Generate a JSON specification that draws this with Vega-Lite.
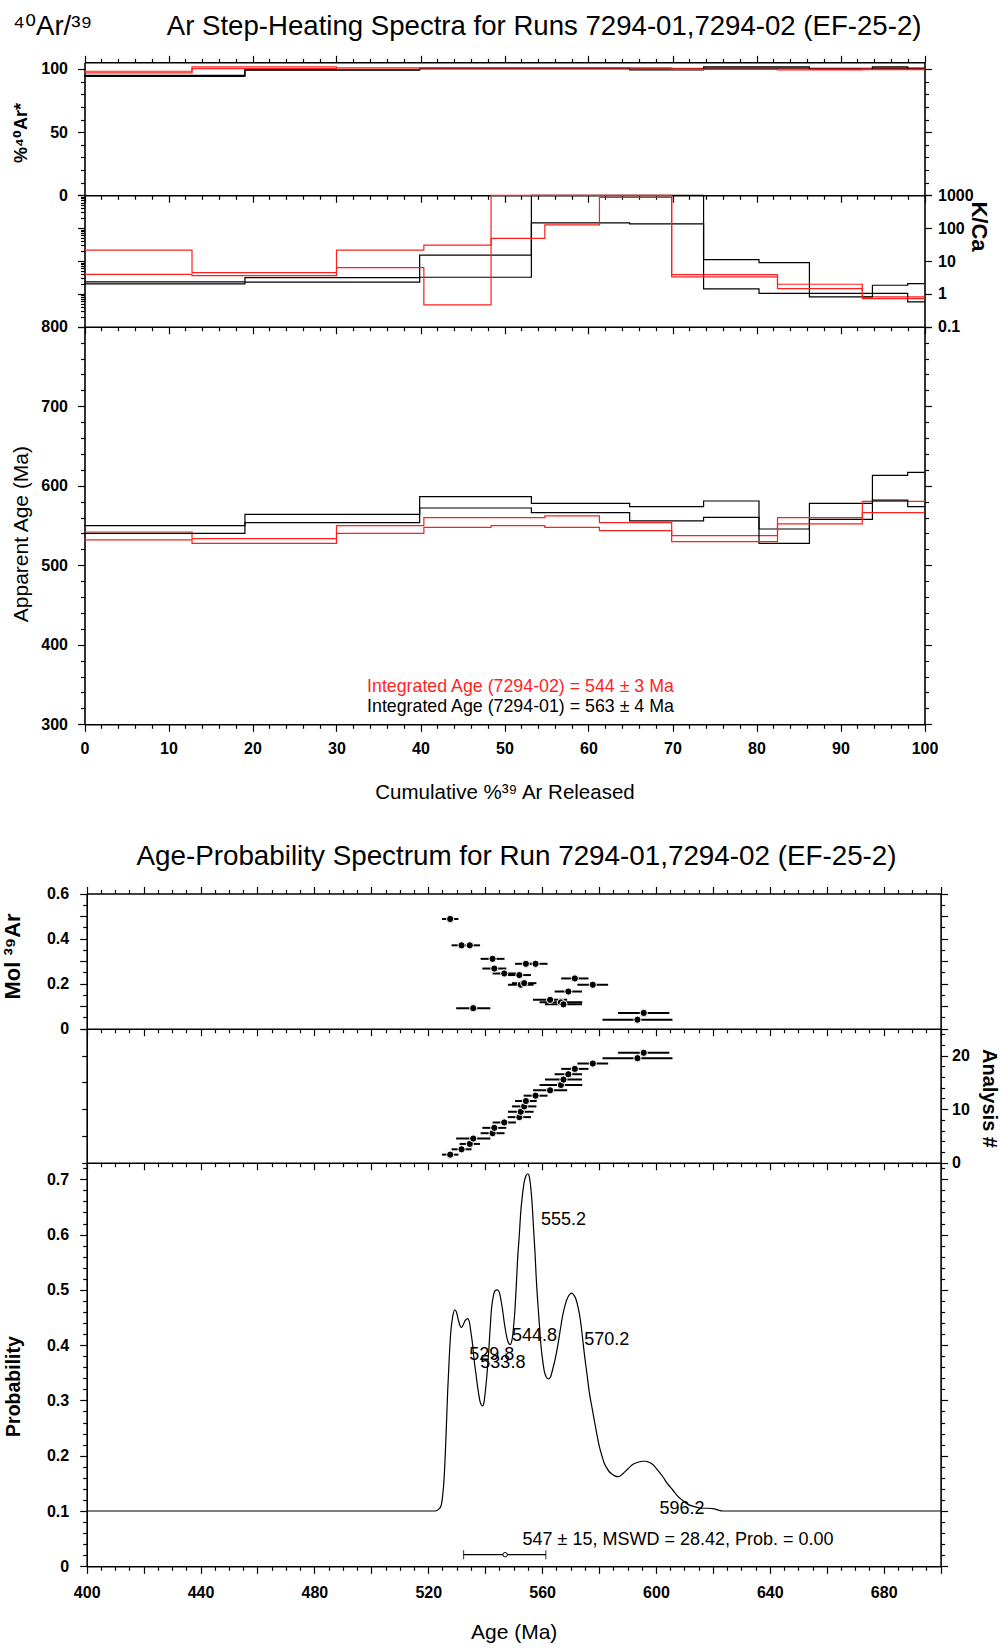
{
  "$schema": "https://vega.github.io/schema/vega-lite/v6.json",
  "width": 1001,
  "height": 1648,
  "autosize": {"type": "none"},
  "padding": 0,
  "background": "white",
  "config": {
    "font": "Liberation Sans",
    "view": {"stroke": null},
    "axis": {"domain": true, "domainColor": "black", "domainWidth": 1.6, "grid": false, "labelFont": "Liberation Sans", "labelFontSize": 16, "labelFontWeight": "bold", "labelColor": "black", "tickColor": "black", "tickWidth": 1.2, "titleFont": "Liberation Sans", "titleColor": "black", "labelFlush": false, "labelOverlap": false, "labelBound": false},
    "legend": {"disable": true}
  },
  "datasets": {
    "steps": [
      {"run": "7294-01", "step": 1, "x0": 0, "x1": 19.1, "rad_hi": 95.0, "rad_lo": 94.2, "kca_hi": 2.31, "kca_lo": 2.01, "age_hi": 549.8, "age_lo": 540.2},
      {"run": "7294-01", "step": 2, "x0": 19.1, "x1": 39.9, "rad_hi": 99.5, "rad_lo": 99.0, "kca_hi": 3.13, "kca_lo": 2.26, "age_hi": 564.0, "age_lo": 553.6},
      {"run": "7294-01", "step": 3, "x0": 39.9, "x1": 53.2, "rad_hi": 100.8, "rad_lo": 100.2, "kca_hi": 15.2, "kca_lo": 3.2, "age_hi": 586.3, "age_lo": 572.0},
      {"run": "7294-01", "step": 4, "x0": 53.2, "x1": 64.9, "rad_hi": 100.8, "rad_lo": 100.2, "kca_hi": 1000, "kca_lo": 145, "age_hi": 577.9, "age_lo": 566.1},
      {"run": "7294-01", "step": 5, "x0": 64.9, "x1": 73.7, "rad_hi": 100.2, "rad_lo": 99.3, "kca_hi": 1000, "kca_lo": 135, "age_hi": 573.7, "age_lo": 555.7},
      {"run": "7294-01", "step": 6, "x0": 73.7, "x1": 80.3, "rad_hi": 101.6, "rad_lo": 100.8, "kca_hi": 11.0, "kca_lo": 1.42, "age_hi": 580.8, "age_lo": 560.3},
      {"run": "7294-01", "step": 7, "x0": 80.3, "x1": 86.3, "rad_hi": 101.6, "rad_lo": 100.8, "kca_hi": 8.9, "kca_lo": 1.03, "age_hi": 545.6, "age_lo": 527.6},
      {"run": "7294-01", "step": 8, "x0": 86.3, "x1": 93.8, "rad_hi": 100.5, "rad_lo": 99.8, "kca_hi": 1.03, "kca_lo": 0.81, "age_hi": 577.9, "age_lo": 557.8},
      {"run": "7294-01", "step": 9, "x0": 93.8, "x1": 98.0, "rad_hi": 101.6, "rad_lo": 100.8, "kca_hi": 1.83, "kca_lo": 1.03, "age_hi": 613.0, "age_lo": 582.0},
      {"run": "7294-01", "step": 10, "x0": 98.0, "x1": 100, "rad_hi": 100.8, "rad_lo": 100.0, "kca_hi": 2.04, "kca_lo": 0.57, "age_hi": 616.8, "age_lo": 573.7},
      {"run": "7294-02", "step": 1, "x0": 0, "x1": 12.8, "rad_hi": 98.2, "rad_lo": 96.9, "kca_hi": 21.5, "kca_lo": 3.94, "age_hi": 541.8, "age_lo": 531.8},
      {"run": "7294-02", "step": 2, "x0": 12.8, "x1": 30.0, "rad_hi": 101.7, "rad_lo": 100.3, "kca_hi": 4.43, "kca_lo": 3.6, "age_hi": 533.4, "age_lo": 527.6},
      {"run": "7294-02", "step": 3, "x0": 30.0, "x1": 40.4, "rad_hi": 101.0, "rad_lo": 100.0, "kca_hi": 21.5, "kca_lo": 6.28, "age_hi": 549.8, "age_lo": 540.2},
      {"run": "7294-02", "step": 4, "x0": 40.4, "x1": 48.4, "rad_hi": 101.0, "rad_lo": 100.0, "kca_hi": 30.5, "kca_lo": 0.46, "age_hi": 559.9, "age_lo": 547.7},
      {"run": "7294-02", "step": 5, "x0": 48.4, "x1": 54.8, "rad_hi": 101.0, "rad_lo": 100.0, "kca_hi": 1000, "kca_lo": 48.6, "age_hi": 559.9, "age_lo": 549.8},
      {"run": "7294-02", "step": 6, "x0": 54.8, "x1": 61.3, "rad_hi": 101.0, "rad_lo": 100.0, "kca_hi": 1000, "kca_lo": 126, "age_hi": 562.0, "age_lo": 547.7},
      {"run": "7294-02", "step": 7, "x0": 61.3, "x1": 69.9, "rad_hi": 101.0, "rad_lo": 100.0, "kca_hi": 1000, "kca_lo": 870, "age_hi": 553.6, "age_lo": 543.5},
      {"run": "7294-02", "step": 8, "x0": 69.9, "x1": 82.5, "rad_hi": 100.6, "rad_lo": 99.6, "kca_hi": 3.85, "kca_lo": 3.27, "age_hi": 537.2, "age_lo": 529.7},
      {"run": "7294-02", "step": 9, "x0": 82.5, "x1": 92.6, "rad_hi": 100.2, "rad_lo": 99.3, "kca_hi": 1.96, "kca_lo": 1.45, "age_hi": 559.9, "age_lo": 552.0},
      {"run": "7294-02", "step": 10, "x0": 92.6, "x1": 100, "rad_hi": 100.4, "rad_lo": 99.5, "kca_hi": 0.81, "kca_lo": 0.72, "age_hi": 580.4, "age_lo": 566.1}
    ],
    "notes": [
      {"run": "7294-02", "text": "Integrated Age (7294-02) = 544 ± 3 Ma", "x": 51.9, "age": 347.3},
      {"run": "7294-01", "text": "Integrated Age (7294-01) = 563 ± 4 Ma", "x": 51.9, "age": 322.1}
    ],
    "analyses": [
      {"n": 1, "age": 527.7, "lo": 524.8, "hi": 530.6, "mol": 0.487},
      {"n": 2, "age": 531.7, "lo": 528.2, "hi": 535.2, "mol": 0.370},
      {"n": 3, "age": 534.6, "lo": 531.0, "hi": 538.2, "mol": 0.370},
      {"n": 4, "age": 535.8, "lo": 529.8, "hi": 541.8, "mol": 0.091},
      {"n": 5, "age": 542.6, "lo": 538.4, "hi": 546.8, "mol": 0.310},
      {"n": 6, "age": 543.2, "lo": 539.0, "hi": 547.4, "mol": 0.267},
      {"n": 7, "age": 546.7, "lo": 542.6, "hi": 550.8, "mol": 0.245},
      {"n": 8, "age": 552.0, "lo": 547.9, "hi": 556.1, "mol": 0.238},
      {"n": 9, "age": 552.5, "lo": 548.0, "hi": 557.0, "mol": 0.195},
      {"n": 10, "age": 553.7, "lo": 549.4, "hi": 558.0, "mol": 0.202},
      {"n": 11, "age": 554.3, "lo": 550.5, "hi": 558.1, "mol": 0.288},
      {"n": 12, "age": 557.7, "lo": 553.5, "hi": 561.9, "mol": 0.288},
      {"n": 13, "age": 562.8, "lo": 556.8, "hi": 568.8, "mol": 0.128},
      {"n": 14, "age": 566.6, "lo": 559.1, "hi": 574.1, "mol": 0.117},
      {"n": 15, "age": 567.5, "lo": 561.0, "hi": 574.0, "mol": 0.108},
      {"n": 16, "age": 569.2, "lo": 564.4, "hi": 574.0, "mol": 0.165},
      {"n": 17, "age": 571.5, "lo": 566.7, "hi": 576.3, "mol": 0.223},
      {"n": 18, "age": 577.8, "lo": 572.4, "hi": 583.2, "mol": 0.195},
      {"n": 19, "age": 593.5, "lo": 581.2, "hi": 605.8, "mol": 0.040},
      {"n": 20, "age": 595.7, "lo": 586.7, "hi": 604.7, "mol": 0.070}
    ],
    "pdf": [
      {"age": 400, "prob": 0.1}, {"age": 522, "prob": 0.1}, {"age": 523, "prob": 0.101}, {"age": 523.8, "prob": 0.104},
      {"age": 524.4, "prob": 0.108}, {"age": 525.0, "prob": 0.125}, {"age": 525.6, "prob": 0.162}, {"age": 526.2, "prob": 0.23},
      {"age": 526.8, "prob": 0.314}, {"age": 527.4, "prob": 0.38}, {"age": 527.9, "prob": 0.423}, {"age": 528.6, "prob": 0.452},
      {"age": 529.3, "prob": 0.464}, {"age": 529.9, "prob": 0.46}, {"age": 530.5, "prob": 0.447}, {"age": 531.1, "prob": 0.436},
      {"age": 531.7, "prob": 0.432}, {"age": 532.3, "prob": 0.437}, {"age": 532.9, "prob": 0.444}, {"age": 533.8, "prob": 0.448},
      {"age": 534.4, "prob": 0.443}, {"age": 535.0, "prob": 0.423}, {"age": 535.6, "prob": 0.4}, {"age": 536.1, "prob": 0.374},
      {"age": 536.7, "prob": 0.35}, {"age": 537.3, "prob": 0.326}, {"age": 538.3, "prob": 0.296}, {"age": 539.1, "prob": 0.29},
      {"age": 539.6, "prob": 0.297}, {"age": 540.0, "prob": 0.314}, {"age": 540.6, "prob": 0.345}, {"age": 541.2, "prob": 0.386},
      {"age": 541.7, "prob": 0.427}, {"age": 542.2, "prob": 0.465}, {"age": 542.8, "prob": 0.487}, {"age": 543.4, "prob": 0.498},
      {"age": 544.3, "prob": 0.5}, {"age": 545.0, "prob": 0.495}, {"age": 545.5, "prob": 0.483}, {"age": 546.1, "prob": 0.464},
      {"age": 546.7, "prob": 0.441}, {"age": 547.3, "prob": 0.422}, {"age": 547.9, "prob": 0.408}, {"age": 548.8, "prob": 0.401},
      {"age": 549.6, "prob": 0.415}, {"age": 550.0, "prob": 0.435}, {"age": 550.4, "prob": 0.46}, {"age": 550.9, "prob": 0.505},
      {"age": 551.4, "prob": 0.556}, {"age": 552.0, "prob": 0.6}, {"age": 552.5, "prob": 0.641}, {"age": 553.1, "prob": 0.672},
      {"age": 553.7, "prob": 0.695}, {"age": 554.3, "prob": 0.706}, {"age": 554.9, "prob": 0.71}, {"age": 555.4, "prob": 0.707},
      {"age": 555.8, "prob": 0.695}, {"age": 556.2, "prob": 0.675}, {"age": 556.6, "prob": 0.647}, {"age": 557.0, "prob": 0.61},
      {"age": 557.5, "prob": 0.568}, {"age": 557.9, "prob": 0.525}, {"age": 558.4, "prob": 0.483}, {"age": 559.0, "prob": 0.44},
      {"age": 559.6, "prob": 0.399}, {"age": 560.2, "prob": 0.372}, {"age": 560.8, "prob": 0.352}, {"age": 561.5, "prob": 0.342},
      {"age": 562.2, "prob": 0.339}, {"age": 562.9, "prob": 0.342}, {"age": 563.7, "prob": 0.356}, {"age": 564.6, "prob": 0.375},
      {"age": 565.5, "prob": 0.399}, {"age": 566.3, "prob": 0.425}, {"age": 567.2, "prob": 0.453}, {"age": 568.1, "prob": 0.473},
      {"age": 569.0, "prob": 0.486}, {"age": 569.7, "prob": 0.492}, {"age": 570.4, "prob": 0.494}, {"age": 571.1, "prob": 0.491},
      {"age": 571.9, "prob": 0.483}, {"age": 572.7, "prob": 0.467}, {"age": 573.4, "prob": 0.447}, {"age": 574.1, "prob": 0.418},
      {"age": 574.8, "prob": 0.386}, {"age": 575.7, "prob": 0.35}, {"age": 576.6, "prob": 0.314}, {"age": 577.5, "prob": 0.288},
      {"age": 578.3, "prob": 0.265}, {"age": 579.2, "prob": 0.24}, {"age": 580.1, "prob": 0.217}, {"age": 581.0, "prob": 0.2},
      {"age": 581.8, "prob": 0.187}, {"age": 582.7, "prob": 0.178}, {"age": 583.6, "prob": 0.171}, {"age": 584.5, "prob": 0.167},
      {"age": 585.4, "prob": 0.164}, {"age": 586.8, "prob": 0.162}, {"age": 588.3, "prob": 0.167}, {"age": 590.1, "prob": 0.176},
      {"age": 591.8, "prob": 0.184}, {"age": 593.6, "prob": 0.188}, {"age": 595.3, "prob": 0.19}, {"age": 596.5, "prob": 0.19},
      {"age": 597.1, "prob": 0.189}, {"age": 598.9, "prob": 0.184}, {"age": 600.6, "prob": 0.174}, {"age": 602.4, "prob": 0.162},
      {"age": 604.1, "prob": 0.149}, {"age": 605.9, "prob": 0.138}, {"age": 607.6, "prob": 0.127}, {"age": 609.4, "prob": 0.119},
      {"age": 611.2, "prob": 0.112}, {"age": 613.5, "prob": 0.108}, {"age": 615.8, "prob": 0.105}, {"age": 618.2, "prob": 0.105},
      {"age": 620.5, "prob": 0.104}, {"age": 622.2, "prob": 0.101}, {"age": 623.5, "prob": 0.1}, {"age": 700, "prob": 0.1}
    ],
    "peaks": [
      {"age": 559.6, "prob": 0.626, "text": "555.2"},
      {"age": 549.4, "prob": 0.417, "text": "544.8"},
      {"age": 574.8, "prob": 0.409, "text": "570.2"},
      {"age": 534.4, "prob": 0.382, "text": "529.8"},
      {"age": 538.3, "prob": 0.367, "text": "533.8"},
      {"age": 601.2, "prob": 0.103, "text": "596.2"},
      {"age": 553.1, "prob": 0.047, "text": "547 ± 15, MSWD = 28.42, Prob. = 0.00"}
    ],
    "mean": [
      {"age": 547.0, "lo": 532.4, "hi": 561.3, "prob": 0.021}
    ]
  },
  "resolve": {"scale": {"x": "independent", "y": "independent"}},
  "layer": [
    {
      "data": {"name": "steps"},
      "transform": [{"fold": ["x0", "x1"], "as": ["edge", "x"]}],
      "mark": {"type": "line", "strokeWidth": 1.2},
      "encoding": {
        "x": {"field": "x", "type": "quantitative", "scale": {"domain": [0, 100], "range": [84.5, 924.5], "nice": false, "zero": false},
          "axis": {"orient": "top", "offset": -62.3, "values": [0,2,4,6,8,10,12,14,16,18,20,22,24,26,28,30,32,34,36,38,40,42,44,46,48,50,52,54,56,58,60,62,64,66,68,70,72,74,76,78,80,82,84,86,88,90,92,94,96,98,100], "labels": false,
            "tickSize": {"condition": {"test": "datum.value % 10 === 0", "value": 7}, "value": 4},
            "title": "⁴⁰Ar/³⁹\u2003\u2003\u2002\u2009Ar Step-Heating Spectra for Runs 7294-01,7294-02 (EF-25-2)", "titleFont": "Liberation Sans, DejaVu Sans", "titleFontSize": 27.6, "titleFontWeight": "normal", "titleX": 12.6, "titleY": -28.3, "titleAlign": "left", "titleBaseline": "alphabetic", "titleAngle": 0}},
        "y": {"field": "rad_hi", "type": "quantitative", "scale": {"domain": [0, 105.3], "range": [195.3, 62.3], "nice": false, "zero": false},
          "axis": {"orient": "left", "offset": -84.5, "values": [0,10,20,30,40,50,60,70,80,90,100], "labelExpr": "datum.value % 50 === 0 ? datum.label : ''", "labelPadding": 10,
            "tickSize": {"condition": {"test": "datum.value % 50 === 0", "value": 7}, "value": 4},
            "title": "%⁴⁰Ar*", "titleFont": "Liberation Sans, DejaVu Sans", "titleFontSize": 18, "titleFontWeight": "bold", "titleAngle": -90, "titleX": -63.5, "titleY": 132.5, "titleAlign": "center", "titleBaseline": "middle"}},
        "color": {"field": "run", "type": "nominal", "scale": {"domain": ["7294-01", "7294-02"], "range": ["black", "#ff1f1f"]}, "legend": null},
        "order": [{"field": "x", "type": "quantitative"}, {"field": "step", "type": "quantitative"}]
      }
    },
    {
      "data": {"name": "steps"},
      "transform": [{"fold": ["x0", "x1"], "as": ["edge", "x"]}],
      "mark": {"type": "line", "strokeWidth": 1.2},
      "encoding": {
        "x": {"field": "x", "type": "quantitative", "scale": {"domain": [0, 100], "range": [84.5, 924.5], "nice": false, "zero": false},
          "axis": {"orient": "bottom", "offset": -1452.7, "values": [0,2,4,6,8,10,12,14,16,18,20,22,24,26,28,30,32,34,36,38,40,42,44,46,48,50,52,54,56,58,60,62,64,66,68,70,72,74,76,78,80,82,84,86,88,90,92,94,96,98,100], "labels": false, "title": null,
            "tickSize": {"condition": {"test": "datum.value % 10 === 0", "value": 7}, "value": 4}}},
        "y": {"field": "rad_lo", "type": "quantitative", "scale": {"domain": [0, 105.3], "range": [195.3, 62.3], "nice": false, "zero": false},
          "axis": {"orient": "right", "offset": -76.5, "values": [0,10,20,30,40,50,60,70,80,90,100], "labels": false, "title": null,
            "tickSize": {"condition": {"test": "datum.value % 50 === 0", "value": 7}, "value": 4}}},
        "color": {"field": "run", "type": "nominal", "scale": {"domain": ["7294-01", "7294-02"], "range": ["black", "#ff1f1f"]}, "legend": null},
        "order": [{"field": "x", "type": "quantitative"}, {"field": "step", "type": "quantitative"}]
      }
    },
    {
      "data": {"name": "steps"},
      "transform": [{"fold": ["x0", "x1"], "as": ["edge", "x"]}],
      "mark": {"type": "line", "strokeWidth": 1.2},
      "encoding": {
        "x": {"field": "x", "type": "quantitative", "scale": {"domain": [0, 100], "range": [84.5, 924.5], "nice": false, "zero": false},
          "axis": {"orient": "bottom", "offset": -1321.3, "values": [0,2,4,6,8,10,12,14,16,18,20,22,24,26,28,30,32,34,36,38,40,42,44,46,48,50,52,54,56,58,60,62,64,66,68,70,72,74,76,78,80,82,84,86,88,90,92,94,96,98,100], "labels": false, "title": null,
            "tickSize": {"condition": {"test": "datum.value % 10 === 0", "value": 7}, "value": 4}}},
        "y": {"field": "kca_hi", "type": "quantitative", "scale": {"type": "log", "domain": [0.1, 1000], "range": [326.7, 195.3], "nice": false},
          "axis": {"orient": "left", "offset": -84.5, "values": [0.1,0.2,0.3,0.4,0.5,0.6,0.7,0.8,0.9,1,2,3,4,5,6,7,8,9,10,20,30,40,50,60,70,80,90,100,200,300,400,500,600,700,800,900,1000], "labels": false, "title": null,
            "tickSize": {"condition": {"test": "abs(log(datum.value)/LN10 - round(log(datum.value)/LN10)) < 0.000001", "value": 7}, "value": 4}}},
        "color": {"field": "run", "type": "nominal", "scale": {"domain": ["7294-01", "7294-02"], "range": ["black", "#ff1f1f"]}, "legend": null},
        "order": [{"field": "x", "type": "quantitative"}, {"field": "step", "type": "quantitative"}]
      }
    },
    {
      "data": {"name": "steps"},
      "transform": [{"fold": ["x0", "x1"], "as": ["edge", "x"]}],
      "mark": {"type": "line", "strokeWidth": 1.2},
      "encoding": {
        "x": {"field": "x", "type": "quantitative", "scale": {"domain": [0, 100], "range": [84.5, 924.5], "nice": false, "zero": false}, "axis": null},
        "y": {"field": "kca_lo", "type": "quantitative", "scale": {"type": "log", "domain": [0.1, 1000], "range": [326.7, 195.3], "nice": false},
          "axis": {"orient": "right", "offset": -76.5, "values": [0.1, 1, 10, 100, 1000], "format": "~g", "tickSize": 7, "labelPadding": 6,
            "title": "K/Ca", "titleFontSize": 22, "titleFontWeight": "bold", "titleAngle": 90, "titleX": 53.5, "titleY": 226, "titleAlign": "center", "titleBaseline": "middle"}},
        "color": {"field": "run", "type": "nominal", "scale": {"domain": ["7294-01", "7294-02"], "range": ["black", "#ff1f1f"]}, "legend": null},
        "order": [{"field": "x", "type": "quantitative"}, {"field": "step", "type": "quantitative"}]
      }
    },
    {
      "data": {"name": "steps"},
      "transform": [{"fold": ["x0", "x1"], "as": ["edge", "x"]}],
      "mark": {"type": "line", "strokeWidth": 1.2},
      "encoding": {
        "x": {"field": "x", "type": "quantitative", "scale": {"domain": [0, 100], "range": [84.5, 924.5], "nice": false, "zero": false},
          "axis": {"orient": "bottom", "offset": -923.7, "values": [0,2,4,6,8,10,12,14,16,18,20,22,24,26,28,30,32,34,36,38,40,42,44,46,48,50,52,54,56,58,60,62,64,66,68,70,72,74,76,78,80,82,84,86,88,90,92,94,96,98,100], "labelExpr": "datum.value % 10 === 0 ? datum.label : ''", "labelPadding": 9,
            "tickSize": {"condition": {"test": "datum.value % 10 === 0", "value": 7}, "value": 4},
            "title": "Cumulative %³⁹ Ar Released", "titleFontSize": 20.5, "titleFontWeight": "normal", "titleY": 68.4, "titleBaseline": "middle"}},
        "y": {"field": "age_hi", "type": "quantitative", "scale": {"domain": [300, 800], "range": [724.3, 326.7], "nice": false, "zero": false},
          "axis": {"orient": "left", "offset": -84.5, "values": [300,320,340,360,380,400,420,440,460,480,500,520,540,560,580,600,620,640,660,680,700,720,740,760,780,800], "labelExpr": "datum.value % 100 === 0 ? datum.label : ''", "labelPadding": 10,
            "tickSize": {"condition": {"test": "datum.value % 100 === 0", "value": 7}, "value": 4},
            "title": "Apparent Age (Ma)", "titleFontSize": 21, "titleFontWeight": "normal", "titleAngle": -90, "titleX": -63.5, "titleY": 533.6, "titleAlign": "center", "titleBaseline": "middle"}},
        "color": {"field": "run", "type": "nominal", "scale": {"domain": ["7294-01", "7294-02"], "range": ["black", "#ff1f1f"]}, "legend": null},
        "order": [{"field": "x", "type": "quantitative"}, {"field": "step", "type": "quantitative"}]
      }
    },
    {
      "data": {"name": "steps"},
      "transform": [{"fold": ["x0", "x1"], "as": ["edge", "x"]}],
      "mark": {"type": "line", "strokeWidth": 1.2},
      "encoding": {
        "x": {"field": "x", "type": "quantitative", "scale": {"domain": [0, 100], "range": [84.5, 924.5], "nice": false, "zero": false}, "axis": null},
        "y": {"field": "age_lo", "type": "quantitative", "scale": {"domain": [300, 800], "range": [724.3, 326.7], "nice": false, "zero": false},
          "axis": {"orient": "right", "offset": -76.5, "values": [300,320,340,360,380,400,420,440,460,480,500,520,540,560,580,600,620,640,660,680,700,720,740,760,780,800], "labels": false, "title": null,
            "tickSize": {"condition": {"test": "datum.value % 100 === 0", "value": 7}, "value": 4}}},
        "color": {"field": "run", "type": "nominal", "scale": {"domain": ["7294-01", "7294-02"], "range": ["black", "#ff1f1f"]}, "legend": null},
        "order": [{"field": "x", "type": "quantitative"}, {"field": "step", "type": "quantitative"}]
      }
    },
    {
      "data": {"name": "notes"},
      "mark": {"type": "text", "fontSize": 17.8, "align": "center", "baseline": "middle", "font": "Liberation Sans"},
      "encoding": {
        "x": {"field": "x", "type": "quantitative", "scale": {"domain": [0, 100], "range": [84.5, 924.5], "nice": false, "zero": false}, "axis": null},
        "y": {"field": "age", "type": "quantitative", "scale": {"domain": [300, 800], "range": [724.3, 326.7], "nice": false, "zero": false}, "axis": null},
        "text": {"field": "text"},
        "color": {"field": "run", "type": "nominal", "scale": {"domain": ["7294-01", "7294-02"], "range": ["black", "#ff1f1f"]}, "legend": null}
      }
    },
    {
      "data": {"name": "analyses"},
      "mark": {"type": "rule", "strokeWidth": 2, "color": "black"},
      "encoding": {
        "x": {"field": "lo", "type": "quantitative", "scale": {"domain": [400, 700], "range": [86.7, 940.6], "nice": false, "zero": false},
          "axis": {"orient": "top", "offset": -893.5, "values": [400,405,410,415,420,425,430,435,440,445,450,455,460,465,470,475,480,485,490,495,500,505,510,515,520,525,530,535,540,545,550,555,560,565,570,575,580,585,590,595,600,605,610,615,620,625,630,635,640,645,650,655,660,665,670,675,680,685,690,695,700], "labels": false,
            "tickSize": {"condition": {"test": "datum.value % 20 === 0", "value": 7}, "value": 4},
            "title": "Age-Probability Spectrum for Run 7294-01,7294-02 (EF-25-2)", "titleFontSize": 27.8, "titleFontWeight": "normal", "titleX": 516, "titleY": -28.8, "titleAlign": "center", "titleBaseline": "alphabetic", "titleAngle": 0}},
        "x2": {"field": "hi"},
        "y": {"field": "mol", "type": "quantitative", "scale": {"domain": [0, 0.6], "range": [1028.7, 893.5], "nice": false, "zero": false},
          "axis": {"orient": "left", "offset": -86.7, "values": [0,0.05,0.1,0.15,0.2,0.25,0.3,0.35,0.4,0.45,0.5,0.55,0.6], "format": "~g", "labelPadding": 11,
            "labelExpr": "abs(datum.value*5 - round(datum.value*5)) < 0.000001 ? datum.label : ''",
            "tickSize": {"condition": {"test": "abs(datum.value*10 - round(datum.value*10)) < 0.000001", "value": 7}, "value": 4},
            "title": "Mol ³⁹Ar", "titleFont": "Liberation Sans, DejaVu Sans", "titleFontSize": 22, "titleFontWeight": "bold", "titleAngle": -90, "titleX": -74.1, "titleY": 956, "titleAlign": "center", "titleBaseline": "middle"}}
      }
    },
    {
      "data": {"name": "analyses"},
      "mark": {"type": "point", "shape": "circle", "filled": true, "fill": "black", "stroke": "white", "strokeWidth": 1, "size": 52, "opacity": 1},
      "encoding": {
        "x": {"field": "age", "type": "quantitative", "scale": {"domain": [400, 700], "range": [86.7, 940.6], "nice": false, "zero": false},
          "axis": {"orient": "bottom", "offset": -619.3, "values": [400,405,410,415,420,425,430,435,440,445,450,455,460,465,470,475,480,485,490,495,500,505,510,515,520,525,530,535,540,545,550,555,560,565,570,575,580,585,590,595,600,605,610,615,620,625,630,635,640,645,650,655,660,665,670,675,680,685,690,695,700], "labels": false, "title": null,
            "tickSize": {"condition": {"test": "datum.value % 20 === 0", "value": 7}, "value": 4}}},
        "y": {"field": "mol", "type": "quantitative", "scale": {"domain": [0, 0.6], "range": [1028.7, 893.5], "nice": false, "zero": false},
          "axis": {"orient": "right", "offset": -60.4, "values": [0,0.05,0.1,0.15,0.2,0.25,0.3,0.35,0.4,0.45,0.5,0.55,0.6], "labels": false, "title": null,
            "tickSize": {"condition": {"test": "abs(datum.value*10 - round(datum.value*10)) < 0.000001", "value": 7}, "value": 4}}}
      }
    },
    {
      "data": {"name": "analyses"},
      "mark": {"type": "rule", "strokeWidth": 2, "color": "black", "yOffset": -2.7},
      "encoding": {
        "x": {"field": "lo", "type": "quantitative", "scale": {"domain": [400, 700], "range": [86.7, 940.6], "nice": false, "zero": false},
          "axis": {"orient": "bottom", "offset": -485.3, "values": [400,405,410,415,420,425,430,435,440,445,450,455,460,465,470,475,480,485,490,495,500,505,510,515,520,525,530,535,540,545,550,555,560,565,570,575,580,585,590,595,600,605,610,615,620,625,630,635,640,645,650,655,660,665,670,675,680,685,690,695,700], "labels": false, "title": null,
            "tickSize": {"condition": {"test": "datum.value % 20 === 0", "value": 7}, "value": 4}}},
        "x2": {"field": "hi"},
        "y": {"field": "n", "type": "quantitative", "scale": {"domain": [0, 25], "range": [1162.7, 1028.7], "nice": false, "zero": false},
          "axis": {"orient": "left", "offset": -86.7, "values": [0, 5, 10, 15, 20, 25], "labels": false, "title": null, "tickSize": 5}}
      }
    },
    {
      "data": {"name": "analyses"},
      "mark": {"type": "point", "shape": "circle", "filled": true, "fill": "black", "stroke": "white", "strokeWidth": 1, "size": 52, "opacity": 1, "yOffset": -2.7},
      "encoding": {
        "x": {"field": "age", "type": "quantitative", "scale": {"domain": [400, 700], "range": [86.7, 940.6], "nice": false, "zero": false}, "axis": null},
        "y": {"field": "n", "type": "quantitative", "scale": {"domain": [0, 25], "range": [1162.7, 1028.7], "nice": false, "zero": false},
          "axis": {"orient": "right", "offset": -60.4, "values": [0,2,4,6,8,10,12,14,16,18,20,22,24], "labelExpr": "datum.value % 10 === 0 ? datum.label : ''", "labelPadding": 4,
            "tickSize": {"condition": {"test": "datum.value % 10 === 0", "value": 7}, "value": 4},
            "title": "Analysis #", "titleFontSize": 20, "titleFontWeight": "bold", "titleAngle": 90, "titleX": 47.4, "titleY": 1098, "titleAlign": "center", "titleBaseline": "middle"}}
      }
    },
    {
      "data": {"name": "pdf"},
      "mark": {"type": "line", "strokeWidth": 1.2, "color": "black", "interpolate": "monotone"},
      "encoding": {
        "x": {"field": "age", "type": "quantitative", "scale": {"domain": [400, 700], "range": [86.7, 940.6], "nice": false, "zero": false},
          "axis": {"orient": "bottom", "offset": -81.7, "values": [400,405,410,415,420,425,430,435,440,445,450,455,460,465,470,475,480,485,490,495,500,505,510,515,520,525,530,535,540,545,550,555,560,565,570,575,580,585,590,595,600,605,610,615,620,625,630,635,640,645,650,655,660,665,670,675,680,685,690,695,700], "labelExpr": "datum.value % 40 === 0 ? datum.label : ''", "labelPadding": 11,
            "tickSize": {"condition": {"test": "datum.value % 20 === 0", "value": 7}, "value": 4},
            "title": "Age (Ma)", "titleFontSize": 21, "titleFontWeight": "normal", "titleY": 66.4, "titleBaseline": "middle"}},
        "y": {"field": "prob", "type": "quantitative", "scale": {"domain": [0, 0.73], "range": [1566.3, 1162.7], "nice": false, "zero": false},
          "axis": {"orient": "left", "offset": -86.7, "values": [0,0.02,0.04,0.06,0.08,0.1,0.12,0.14,0.16,0.18,0.2,0.22,0.24,0.26,0.28,0.3,0.32,0.34,0.36,0.38,0.4,0.42,0.44,0.46,0.48,0.5,0.52,0.54,0.56,0.58,0.6,0.62,0.64,0.66,0.68,0.7,0.72], "format": "~g", "labelPadding": 11,
            "labelExpr": "abs(datum.value*10 - round(datum.value*10)) < 0.000001 ? datum.label : ''",
            "tickSize": {"condition": {"test": "abs(datum.value*10 - round(datum.value*10)) < 0.000001", "value": 7}, "value": 4},
            "title": "Probability", "titleFontSize": 19.5, "titleFontWeight": "bold", "titleAngle": -90, "titleX": -73.2, "titleY": 1386, "titleAlign": "center", "titleBaseline": "middle"}}
      }
    },
    {
      "data": {"name": "peaks"},
      "mark": {"type": "text", "fontSize": 18, "align": "left", "baseline": "middle", "color": "black", "font": "Liberation Sans"},
      "encoding": {
        "x": {"field": "age", "type": "quantitative", "scale": {"domain": [400, 700], "range": [86.7, 940.6], "nice": false, "zero": false}, "axis": null},
        "y": {"field": "prob", "type": "quantitative", "scale": {"domain": [0, 0.73], "range": [1566.3, 1162.7], "nice": false, "zero": false},
          "axis": {"orient": "right", "offset": -60.4, "values": [0,0.02,0.04,0.06,0.08,0.1,0.12,0.14,0.16,0.18,0.2,0.22,0.24,0.26,0.28,0.3,0.32,0.34,0.36,0.38,0.4,0.42,0.44,0.46,0.48,0.5,0.52,0.54,0.56,0.58,0.6,0.62,0.64,0.66,0.68,0.7,0.72], "labels": false, "title": null,
            "tickSize": {"condition": {"test": "abs(datum.value*10 - round(datum.value*10)) < 0.000001", "value": 7}, "value": 4}}},
        "text": {"field": "text"}
      }
    },
    {
      "data": {"name": "mean"},
      "mark": {"type": "rule", "strokeWidth": 1.2, "color": "black"},
      "encoding": {
        "x": {"field": "lo", "type": "quantitative", "scale": {"domain": [400, 700], "range": [86.7, 940.6], "nice": false, "zero": false}, "axis": null},
        "x2": {"field": "hi"},
        "y": {"field": "prob", "type": "quantitative", "scale": {"domain": [0, 0.73], "range": [1566.3, 1162.7], "nice": false, "zero": false}, "axis": null}
      }
    },
    {
      "data": {"name": "mean"},
      "transform": [{"fold": ["lo", "hi"], "as": ["end", "edge_age"]}],
      "mark": {"type": "tick", "orient": "vertical", "size": 9, "thickness": 1.2, "color": "black"},
      "encoding": {
        "x": {"field": "edge_age", "type": "quantitative", "scale": {"domain": [400, 700], "range": [86.7, 940.6], "nice": false, "zero": false}, "axis": null},
        "y": {"field": "prob", "type": "quantitative", "scale": {"domain": [0, 0.73], "range": [1566.3, 1162.7], "nice": false, "zero": false}, "axis": null}
      }
    },
    {
      "data": {"name": "mean"},
      "mark": {"type": "point", "shape": "circle", "filled": true, "fill": "white", "stroke": "black", "strokeWidth": 1, "size": 20, "opacity": 1},
      "encoding": {
        "x": {"field": "age", "type": "quantitative", "scale": {"domain": [400, 700], "range": [86.7, 940.6], "nice": false, "zero": false}, "axis": null},
        "y": {"field": "prob", "type": "quantitative", "scale": {"domain": [0, 0.73], "range": [1566.3, 1162.7], "nice": false, "zero": false}, "axis": null}
      }
    }
  ]
}
